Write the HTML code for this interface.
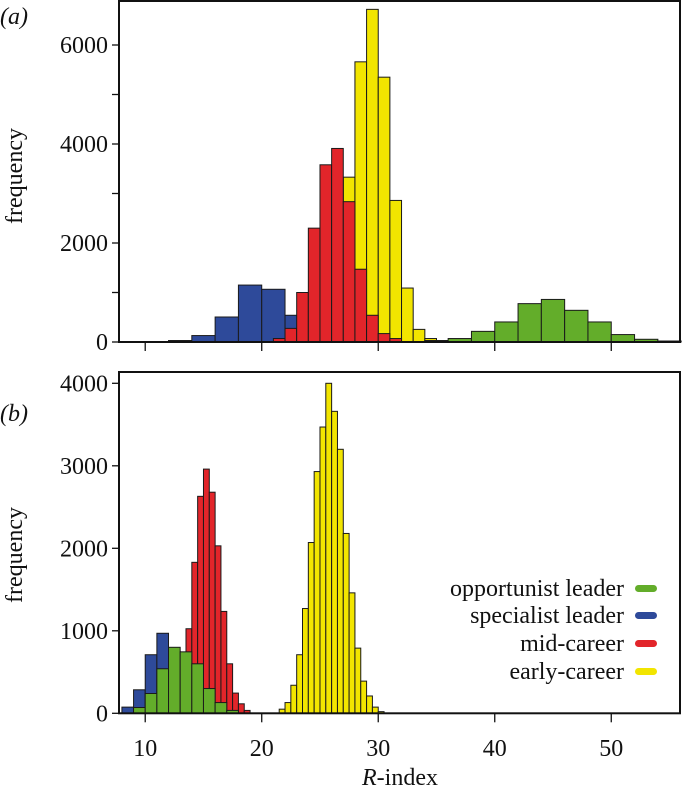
<!DOCTYPE html>
<html><head><meta charset="utf-8"><style>
html,body{margin:0;padding:0;background:#fff;}
svg text{font-family:"Liberation Serif",serif;fill:#111;}
</style></head><body>
<svg id="chart" width="682" height="789" viewBox="0 0 682 789" xmlns="http://www.w3.org/2000/svg">
<g id="pa"></g>
<g id="pb"></g>
<text x="0" y="24" font-size="24" font-style="italic">(a)</text>
<text x="0" y="421" font-size="24" font-style="italic">(b)</text>
<text transform="translate(22,176) rotate(-90)" text-anchor="middle" font-size="24">frequency</text>
<text transform="translate(22,555) rotate(-90)" text-anchor="middle" font-size="24">frequency</text>
<text x="400" y="785" text-anchor="middle" font-size="24"><tspan font-style="italic">R</tspan>-index</text>
<g>
<text x="624" y="596" text-anchor="end" font-size="24">opportunist leader</text>
<rect x="635" y="585" width="22" height="7" rx="3.5" fill="#63ad2a"/>
<text x="624" y="623" text-anchor="end" font-size="24">specialist leader</text>
<rect x="635" y="612" width="22" height="7" rx="3.5" fill="#2e4a9a"/>
<text x="624" y="651" text-anchor="end" font-size="24">mid-career</text>
<rect x="635" y="640" width="22" height="7" rx="3.5" fill="#e2252a"/>
<text x="624" y="679" text-anchor="end" font-size="24">early-career</text>
<rect x="635" y="668" width="22" height="7" rx="3.5" fill="#f2e500"/>
</g>
</svg>
<script>
// Panel (a) data
const aBlueStart = 10, aBlueW = 2;
const aBlue = [5, 30, 130, 505, 1150, 1065, 540, 200];
const aRedStart = 20, aRedW = 1;
const aRed = [10, 70, 275, 1000, 2300, 3580, 3910, 2835, 1470, 540, 170, 70, 10];
const aYellowStart = 23, aYellowW = 1;
const aYellow = [20, 100, 300, 1500, 3330, 5660, 6720, 5350, 2860, 1090, 255, 70, 15];
const aGreenStart = 32, aGreenW = 2;
const aGreen = [5, 30, 70, 215, 405, 775, 860, 640, 405, 150, 55, 20];
const aYTicks = [0, 1000, 2000, 3000, 4000, 5000, 6000];
const aYLabels = [0, 2000, 4000, 6000];
// Panel (b) data
const bBlueStart = 8, bBlueW = 1;
const bBlue = [75, 285, 710, 970, 750, 450, 200, 60, 10];
const bRedStart = 11, bRedW = 0.5;
const bRed = [5, 15, 40, 100, 250, 1025, 1830, 2630, 2960, 2680, 2030, 1235, 600, 245, 115, 35];
const bGreenStart = 9, bGreenW = 1;
const bGreen = [70, 240, 540, 800, 745, 600, 300, 130, 35];
const bYellowStart = 21.5, bYellowW = 0.5;
const bYellow = [50, 130, 340, 710, 1270, 2070, 2930, 3470, 4000, 3660, 3200, 2180, 1460, 790, 390, 210, 75, 20];
const bYTicks = [0, 1000, 2000, 3000, 4000];
const xTicks = [10, 20, 30, 40, 50];

const NS = "http://www.w3.org/2000/svg";
const X0 = 119, X1 = 680, XMIN = 7.75, XMAX = 55.9;
function sx(v){ return X0 + (v - XMIN) / (XMAX - XMIN) * (X1 - X0); }
function mk(tag, attrs, parent){
  const e = document.createElementNS(NS, tag);
  for (const k in attrs) e.setAttribute(k, attrs[k]);
  parent.appendChild(e); return e;
}
function drawSeries(g, sy, start, w, vals, color, name){
  const sg = mk('g', {}, g);
  
  
  vals.forEach((v, i) => {
    const xa = sx(start + i * w), xb = sx(start + (i + 1) * w);
    const r = mk('rect', {x: xa, y: sy(v), width: xb - xa, height: sy(0) - sy(v), fill: color, stroke: '#1a1a1a', 'stroke-width': 1}, sg);
    
    
  });
}
// Panel a
(function(){
  const g = document.getElementById('pa');
  const top = 1, bottom = 342;
  const sy = v => bottom - v * (297 / 6000);
  drawSeries(g, sy, aBlueStart, aBlueW, aBlue, '#2e4a9a', 'specialist-leader-a');
  drawSeries(g, sy, aYellowStart, aYellowW, aYellow, '#f2e500', 'early-career-a');
  drawSeries(g, sy, aRedStart, aRedW, aRed, '#e2252a', 'mid-career-a');
  drawSeries(g, sy, aGreenStart, aGreenW, aGreen, '#63ad2a', 'opportunist-leader-a');
  const f = mk('rect', {x: X0, y: top, width: X1 - X0, height: bottom - top, fill: 'none', stroke: '#111', 'stroke-width': 2}, g);
  
  
  aYTicks.forEach(t => {
    const l = mk('line', {x1: X0 - 7, x2: X0, y1: sy(t), y2: sy(t), stroke: '#111', 'stroke-width': 1.3}, g);
    
    
  });
  aYLabels.forEach(t => {
    const tx = mk('text', {x: X0 - 11, y: sy(t) + 8, 'text-anchor': 'end', 'font-size': 24}, g);
    tx.textContent = t;
    
    
  });
  xTicks.forEach(t => {
    const l = mk('line', {x1: sx(t), x2: sx(t), y1: bottom, y2: bottom + 9, stroke: '#111', 'stroke-width': 1.3}, g);
    
    
  });
})();
// Panel b
(function(){
  const g = document.getElementById('pb');
  const top = 372, bottom = 713.3;
  const sy = v => bottom - v * (330 / 4000);
  drawSeries(g, sy, bBlueStart, bBlueW, bBlue, '#2e4a9a', 'specialist-leader-b');
  drawSeries(g, sy, bRedStart, bRedW, bRed, '#e2252a', 'mid-career-b');
  drawSeries(g, sy, bGreenStart, bGreenW, bGreen, '#63ad2a', 'opportunist-leader-b');
  drawSeries(g, sy, bYellowStart, bYellowW, bYellow, '#f2e500', 'early-career-b');
  const f = mk('rect', {x: X0, y: top, width: X1 - X0, height: bottom - top, fill: 'none', stroke: '#111', 'stroke-width': 2}, g);
  
  
  bYTicks.forEach(t => {
    const l = mk('line', {x1: X0 - 7, x2: X0, y1: sy(t), y2: sy(t), stroke: '#111', 'stroke-width': 1.3}, g);
    
    
    const tx = mk('text', {x: X0 - 11, y: sy(t) + 8, 'text-anchor': 'end', 'font-size': 24}, g);
    tx.textContent = t;
    
    
  });
  xTicks.forEach(t => {
    const l = mk('line', {x1: sx(t), x2: sx(t), y1: bottom, y2: bottom + 9, stroke: '#111', 'stroke-width': 1.3}, g);
    
    
    const tx = mk('text', {x: sx(t), y: 756, 'text-anchor': 'middle', 'font-size': 24}, g);
    tx.textContent = t;
    
    
  });
})();
</script>
</body></html>
